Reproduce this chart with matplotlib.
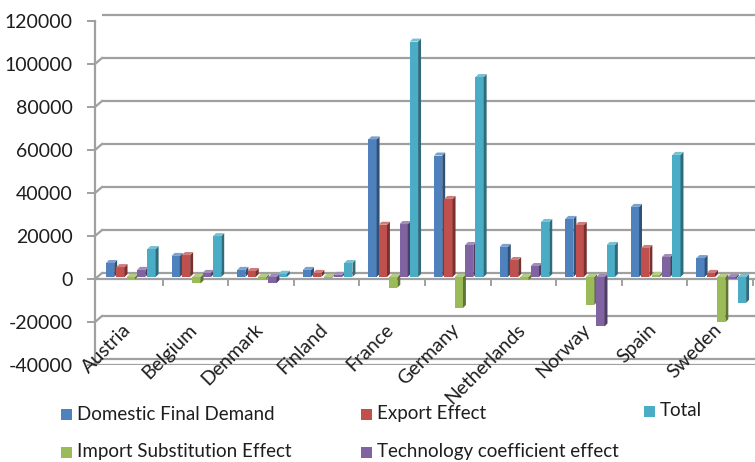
import matplotlib
matplotlib.use("Agg")
import matplotlib.pyplot as plt
import matplotlib.transforms as mtransforms
from matplotlib.patches import Polygon, Rectangle
import numpy as np

plt.rcParams['font.family'] = ['Lato', 'DejaVu Sans']

countries = ["Austria", "Belgium", "Denmark", "Finland", "France",
             "Germany", "Netherlands", "Norway", "Spain", "Sweden"]

domestic_final_demand = [6500, 9800, 3300, 3300, 64000, 56500, 14000, 27000, 32600, 8800]
export_effect = [4600, 10200, 2800, 1900, 24300, 36300, 7900, 24200, 13500, 1900]
import_substitution = [-1200, -3000, -1000, -500, -5000, -14400, -1500, -13000, 1000, -21000]
technology_coefficient = [3300, 1900, -2800, 1000, 24600, 14900, 5100, -23000, 9300, -1000]
total = [13000, 19000, 1500, 6500, 109500, 93000, 25600, 14900, 56800, -12000]

series = [
    ("Domestic Final Demand", domestic_final_demand, "#4F81BD"),
    ("Export Effect", export_effect, "#C0504D"),
    ("Import Substitution Effect", import_substitution, "#9BBB59"),
    ("Technology coefficient effect", technology_coefficient, "#8064A2"),
    ("Total", total, "#4BACC6"),
]

yticks = [-40000, -20000, 0, 20000, 40000, 60000, 80000, 100000, 120000]

W, H = 755, 462
fig = plt.figure(figsize=(W / 100, H / 100), dpi=100)
ax = fig.add_axes([95 / W, (H - 365) / H, (W - 95) / W, 344 / H])
ax.set_xlim(-0.53, 9.53)
ax.set_ylim(-40000, 120000)
ax.set_facecolor("none")

grid_col = "#a0a0a0"
text_col = "#1e1e1e"
# back-wall gridlines, shifted up/right to give the 3D depth
wall = mtransforms.offset_copy(ax.transData, fig=fig, x=7, y=6, units="dots")
for v in yticks:
    ax.plot([-0.53, 9.6], [v, v], color=grid_col, lw=1.6, transform=wall,
            solid_capstyle="butt", zorder=1, clip_on=False)
    # small diagonal from the front axis up to the wall line
    x0, y0 = ax.transData.transform((-0.53, v))
    ax.add_line(plt.Line2D([x0, x0 + 7], [y0, y0 + 6], transform=None,
                           color=grid_col, lw=1.6, zorder=1))

# front axis lines
ax.axhline(0, color=grid_col, lw=1.6, zorder=2)
ax.axhline(-40000, color=grid_col, lw=1.6, zorder=1)
for b in np.arange(0.5, 9.6, 1.0):
    x0, y0 = ax.transData.transform((b, 0))
    ax.add_line(plt.Line2D([x0, x0], [y0, y0 - 6], transform=None,
                           color=grid_col, lw=1.4, zorder=2))

for s in ["top", "right", "bottom"]:
    ax.spines[s].set_visible(False)
ax.spines["left"].set_color(grid_col)
ax.spines["left"].set_linewidth(1.6)

ax.set_yticks(yticks)
ax.set_yticklabels([str(v) for v in yticks], fontsize=14, color=text_col)
ax.tick_params(axis="y", length=6, width=1.4, color=grid_col, pad=10)
ax.set_xticks([])


def shade(hexcol, f):
    c = np.array(matplotlib.colors.to_rgb(hexcol))
    if f < 1:
        return tuple(c * f)
    return tuple(c + (1 - c) * (f - 1))


bw = 0.125        # front face width
step = 0.158      # spacing between bars
dx = 0.045        # depth in x (category units)
dy = 1400         # depth in y (data units)
offsets = [-0.30 + k * step for k in range(5)]

bars = mtransforms.offset_copy(ax.transData, fig=fig, x=0, y=2, units="dots")
for k, (name, vals, col) in enumerate(series):
    for i, v in enumerate(vals):
        xl = i + offsets[k] - bw / 2
        xr = xl + bw
        lo, hi = min(0, v), max(0, v)
        ax.add_patch(Rectangle((xl, lo), bw, hi - lo, facecolor=col,
                               edgecolor="none", transform=bars, zorder=3 + k))
        ax.add_patch(Polygon([(xr, lo), (xr + dx, lo + dy), (xr + dx, hi + dy), (xr, hi)],
                             closed=True, facecolor=shade(col, 0.62),
                             edgecolor="none", transform=bars, zorder=3 + k))
        ax.add_patch(Polygon([(xl, hi), (xl + dx, hi + dy), (xr + dx, hi + dy), (xr, hi)],
                             closed=True, facecolor=shade(col, 1.25),
                             edgecolor="none", transform=bars, zorder=3 + k))

for i, name in enumerate(countries):
    ax.text(i - 0.02, -22200, name, rotation=45, rotation_mode="anchor",
            ha="right", va="center", fontsize=14, color=text_col)

# legend, laid out in three columns
legend_pos = {
    "Domestic Final Demand": (61, 414),
    "Import Substitution Effect": (61, 452),
    "Export Effect": (361, 414),
    "Technology coefficient effect": (361, 452),
    "Total": (644, 411),
}
for name, vals, col in series:
    px, py = legend_pos[name]
    fig.patches.append(Rectangle((px / W, (H - py - 5.5) / H), 11 / W, 11 / H,
                                 facecolor=col, edgecolor="none",
                                 transform=fig.transFigure, figure=fig))
    fig.text((px + 16) / W, (H - py) / H, name, fontsize=13.5,
             ha="left", va="center", color=text_col)

fig.savefig("out.png", dpi=100)
